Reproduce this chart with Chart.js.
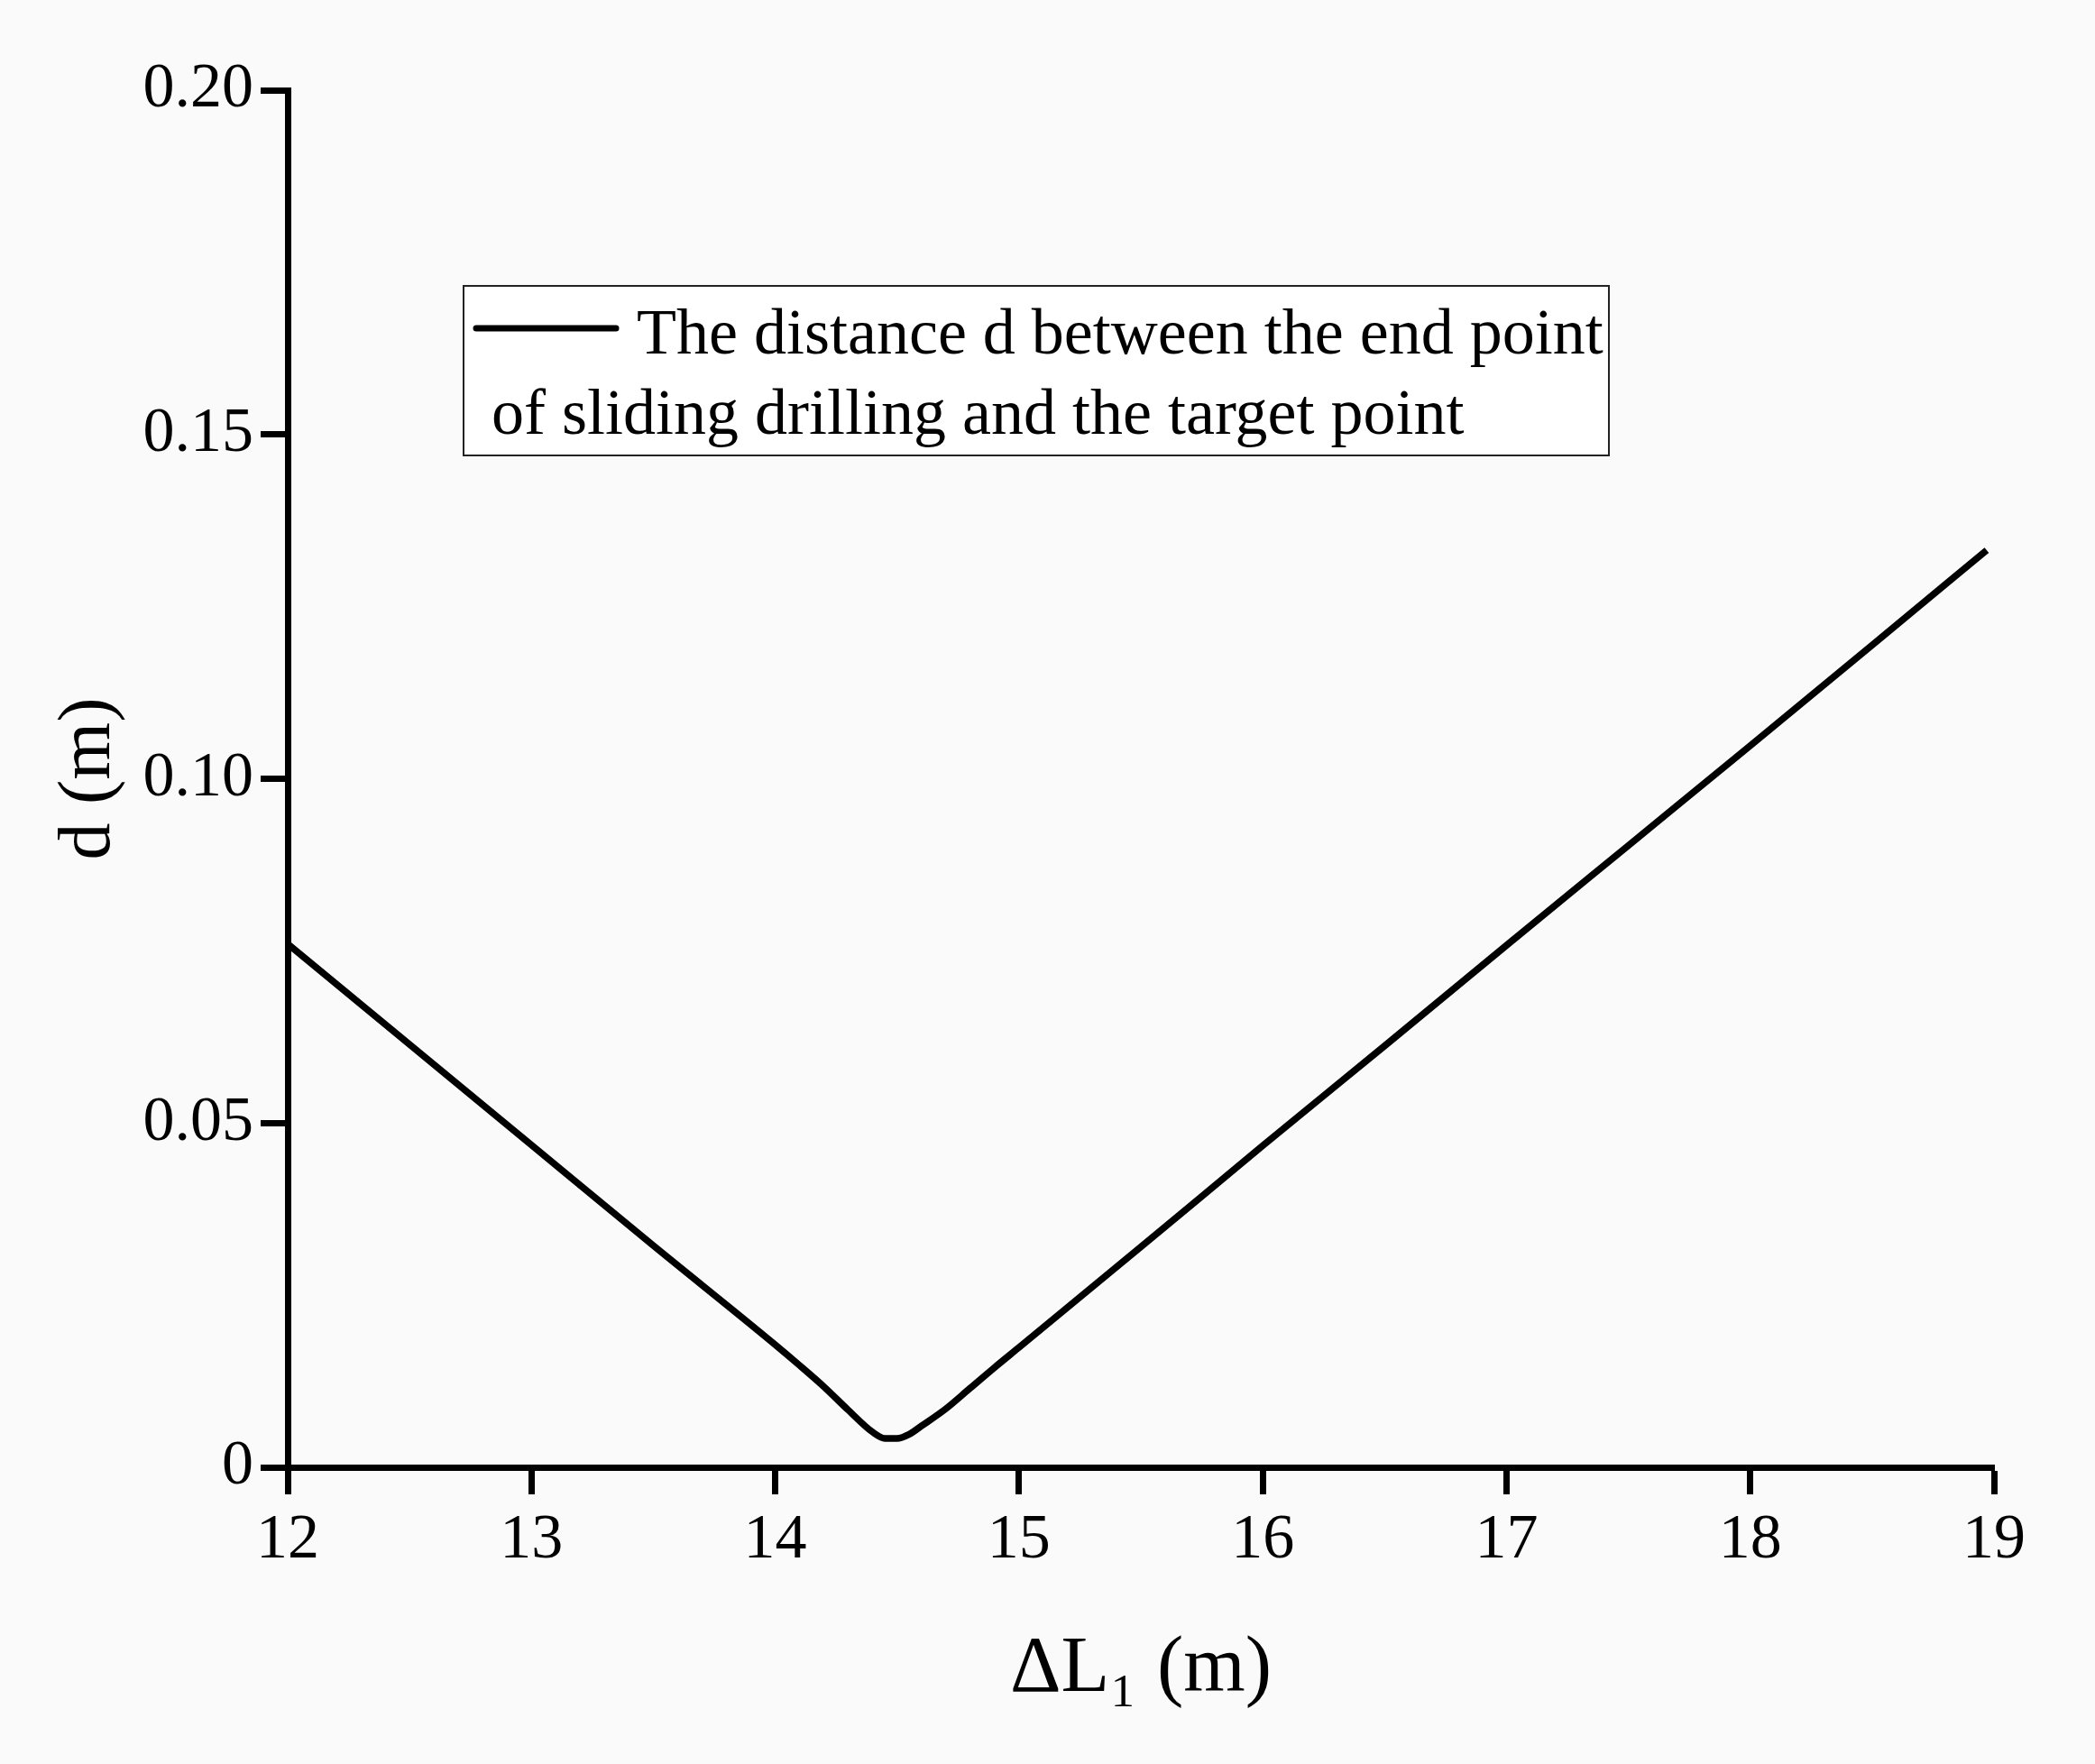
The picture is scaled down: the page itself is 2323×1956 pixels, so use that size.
<!DOCTYPE html>
<html>
<head>
<meta charset="utf-8">
<script src="https://cdn.jsdelivr.net/npm/chart.js@4.4.1/dist/chart.umd.min.js"></script>
<style>
html,body{margin:0;padding:0;background:#fafafa;}
#wrap{width:2323px;height:1956px;}
</style>
</head>
<body>
<div id="wrap"><canvas id="c" width="2323" height="1956"></canvas></div>
<script>
// Data
const xValues = [12, 12.5, 13, 13.5, 14, 14.1, 14.2, 14.3, 14.4, 14.45, 14.5, 14.55, 14.6, 14.7, 14.8, 14.9, 15, 15.5, 16, 16.5, 17, 17.5, 18, 18.5, 18.97];
const dValues = [0.0760, 0.0614, 0.0468, 0.0322, 0.0178, 0.0148, 0.0117, 0.0083, 0.0051, 0.0042, 0.0042, 0.0048, 0.0060, 0.0085, 0.0115, 0.0145, 0.0174, 0.0320, 0.0467, 0.0612, 0.0758, 0.0903, 0.1048, 0.1194, 0.1332];
const xTicks = [12, 13, 14, 15, 16, 17, 18, 19];
const yTicks = [0, 0.05, 0.10, 0.15, 0.20];
const yTickLabels = ['0', '0.05', '0.10', '0.15', '0.20'];
const seriesLabel = ['The distance d between the end point', 'of sliding drilling and the target point'];
const xTitle = 'ΔL\u2081 (m)';
const yTitle = 'd (m)';

const FONT = "'Liberation Serif', 'Times New Roman', serif";

const bgPlugin = {
  id: 'bg',
  beforeDraw(chart) {
    const ctx = chart.ctx;
    ctx.save();
    ctx.fillStyle = '#fafafa';
    ctx.fillRect(0, 0, chart.width, chart.height);
    ctx.restore();
  }
};

const legendPlugin = {
  id: 'boxLegend',
  afterDraw(chart) {
    const ctx = chart.ctx;
    const x0 = 514, y0 = 317, w = 1270, h = 188;
    ctx.save();
    ctx.fillStyle = '#ffffff';
    ctx.fillRect(x0, y0, w, h);
    ctx.strokeStyle = '#222';
    ctx.lineWidth = 2;
    ctx.strokeRect(x0, y0, w, h);
    ctx.strokeStyle = '#000';
    ctx.lineWidth = 7;
    ctx.lineCap = 'round';
    ctx.beginPath();
    ctx.moveTo(528, 364);
    ctx.lineTo(683, 364);
    ctx.stroke();
    ctx.fillStyle = '#000';
    ctx.font = "72px " + FONT;
    ctx.textBaseline = 'alphabetic';
    ctx.textAlign = 'left';
    ctx.fillText(seriesLabel[0], 706, 392);
    ctx.fillText(seriesLabel[1], 545, 481);
    ctx.restore();
  }
};

new Chart(document.getElementById('c'), {
  type: 'line',
  data: {
    datasets: [{
      label: seriesLabel.join(' '),
      data: xValues.map((x, i) => ({x: x, y: dValues[i]})),
      borderColor: '#000',
      borderWidth: 7.5,
      pointRadius: 0,
      cubicInterpolationMode: 'monotone',
      fill: false
    }]
  },
  options: {
    responsive: false,
    animation: false,
    devicePixelRatio: 1,
    layout: { padding: { left: 50, top: 100, right: 112, bottom: 51 } },
    plugins: { legend: { display: false }, tooltip: { enabled: false } },
    scales: {
      x: {
        type: 'linear',
        min: 12, max: 19,
        afterBuildTicks(scale) { scale.ticks = xTicks.map(v => ({value: v})); },
        afterFit(scale) { scale.height = 278; },
        border: { display: true, color: '#000', width: 7 },
        grid: { display: true, drawOnChartArea: false, drawTicks: true, tickLength: 30, tickWidth: 7, tickColor: '#000' },
        ticks: { color: '#000', font: { family: FONT, size: 70 }, padding: 10, maxRotation: 0 },
        title: { display: true, text: xTitle, color: '#000', font: { family: FONT, size: 88 }, padding: { top: 0, bottom: 0 } }
      },
      y: {
        type: 'linear',
        min: 0, max: 0.2,
        afterBuildTicks(scale) { scale.ticks = yTicks.map(v => ({value: v})); },
        afterFit(scale) { scale.width = 269; },
        border: { display: true, color: '#000', width: 7 },
        grid: { display: true, drawOnChartArea: false, drawTicks: true, tickLength: 30, tickWidth: 7, tickColor: '#000' },
        ticks: { color: '#000', font: { family: FONT, size: 70 }, padding: 8,
          callback(value) { const i = yTicks.findIndex(t => Math.abs(t - value) < 1e-9); return i >= 0 ? yTickLabels[i] : ''; } },
        title: { display: true, text: yTitle, color: '#000', font: { family: FONT, size: 82 }, padding: { top: 0, bottom: 0 } }
      }
    }
  },
  plugins: [bgPlugin, legendPlugin]
});
</script>
</body>
</html>
